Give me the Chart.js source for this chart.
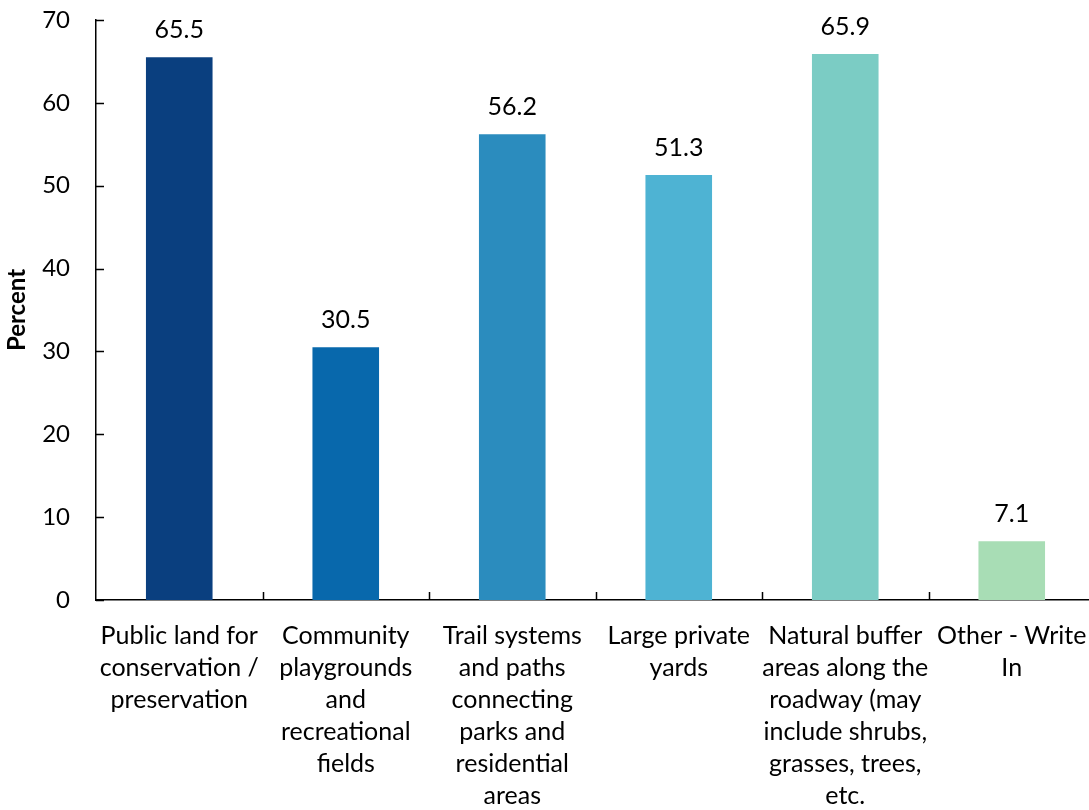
<!DOCTYPE html>
<html>
<head>
<meta charset="utf-8">
<script src="https://cdn.jsdelivr.net/npm/chart.js@4.4.0/dist/chart.umd.min.js"></script>
<style>
  html, body { margin: 0; padding: 0; background: #fff; overflow: hidden; }
  #wrap { width: 1096px; height: 810px; position: relative; }
</style>
</head>
<body>
<div id="wrap"><canvas id="myChart"></canvas></div>
<script>
// data
var categories = [
  ['Public land for', 'conservation /', 'preservation'],
  ['Community', 'playgrounds', 'and', 'recreational', 'fields'],
  ['Trail systems', 'and paths', 'connecting', 'parks and', 'residential', 'areas'],
  ['Large private', 'yards'],
  ['Natural buffer', 'areas along the', 'roadway (may', 'include shrubs,', 'grasses, trees,', 'etc.'],
  ['Other - Write', 'In']
];
var percentValues = [65.5, 30.5, 56.2, 51.3, 65.9, 7.1];
var barColors = ['#0a3f7f', '#0868ac', '#2b8cbe', '#4eb3d3', '#7bccc4', '#a8ddb5'];
var yTicks = [0, 10, 20, 30, 40, 50, 60, 70];

var FONT = 'Lato, Calibri, Carlito, sans-serif';

// value labels above the bars
var valueLabels = {
  id: 'valueLabels',
  afterDatasetsDraw: function(chart) {
    var ctx = chart.ctx;
    var meta = chart.getDatasetMeta(0);
    ctx.save();
    ctx.font = '25px ' + FONT;
    ctx.fillStyle = '#000';
    ctx.textAlign = 'center';
    ctx.textBaseline = 'middle';
    meta.data.forEach(function(bar, i) {
      ctx.fillText(percentValues[i].toFixed(1), bar.x, bar.y - 27);
    });
    ctx.restore();
  }
};

// tick marks drawn inside the plot, like the original
var innerTicks = {
  id: 'innerTicks',
  afterDraw: function(chart) {
    var ctx = chart.ctx;
    var x = chart.scales.x, y = chart.scales.y;
    var len = 8;
    ctx.save();
    ctx.strokeStyle = '#000';
    ctx.lineWidth = 1.5;
    ctx.beginPath();
    yTicks.forEach(function(v) {
      var py = Math.round(y.getPixelForValue(v)) + 0.5;
      ctx.moveTo(x.left, py);
      ctx.lineTo(x.left + len, py);
    });
    for (var i = 1; i < categories.length; i++) {
      var px = Math.round((x.getPixelForValue(i - 1) + x.getPixelForValue(i)) / 2) + 0.5;
      ctx.moveTo(px, y.bottom);
      ctx.lineTo(px, y.bottom - len);
    }
    ctx.stroke();
    ctx.restore();
  }
};

var ctx = document.getElementById('myChart').getContext('2d');
var myChart = new Chart(ctx, {
  type: 'bar',
  data: {
    labels: categories,
    datasets: [{
      label: 'Percent',
      data: percentValues,
      backgroundColor: barColors,
      borderWidth: 0,
      barPercentage: 0.4,
      categoryPercentage: 1.0
    }]
  },
  options: {
    responsive: true,
    maintainAspectRatio: false,
    animation: false,
    layout: { padding: { top: 20, right: 1, bottom: 0, left: 0 } },
    plugins: {
      legend: { display: false },
      tooltip: { enabled: false }
    },
    scales: {
      x: {
        grid: { display: false, drawTicks: false, tickLength: 0 },
        border: { display: true, color: '#000', width: 1.5 },
        afterFit: function(scale) {
          scale.height = 210;
          scale.paddingLeft = 0;
          scale.paddingRight = 0;
        },
        ticks: {
          color: '#000',
          maxRotation: 0,
          autoSkip: false,
          padding: 20,
          font: { family: FONT, size: 25, lineHeight: '32px' }
        }
      },
      y: {
        min: 0,
        max: 70,
        grid: { display: false, drawTicks: false, tickLength: 0 },
        border: { display: true, color: '#000', width: 1.5 },
        afterFit: function(scale) {
          scale.width = 96;
          scale.paddingTop = 10;
          scale.paddingBottom = 10;
        },
        afterBuildTicks: function(scale) {
          scale.ticks = yTicks.map(function(v) { return { value: v }; });
        },
        ticks: {
          color: '#000',
          padding: 26,
          font: { family: FONT, size: 24 }
        },
        title: {
          display: true,
          text: 'Percent',
          color: '#000',
          padding: { top: 3, bottom: 0 },
          font: { family: FONT, size: 24, weight: 'bold' }
        }
      }
    }
  },
  plugins: [valueLabels, innerTicks]
});
</script>
</body>
</html>
